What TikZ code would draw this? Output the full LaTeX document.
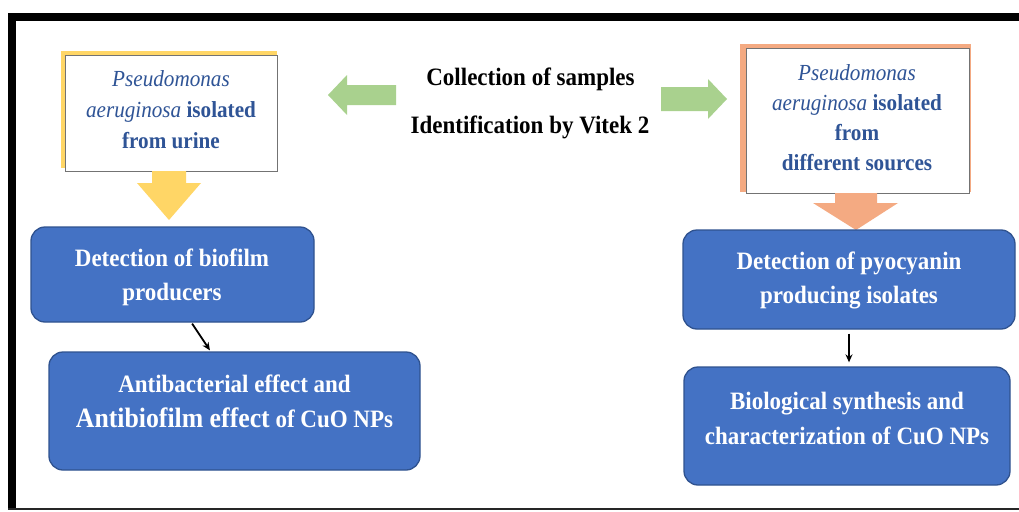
\documentclass[tikz,border=0pt]{standalone}
\usepackage{fontspec}
\setmainfont{Liberation Serif}[FakeStretch=0.92]
\usetikzlibrary{calc,arrows.meta}
\definecolor{boxblue}{RGB}{68,114,196}
\definecolor{boxedge}{RGB}{47,82,143}
\definecolor{inkblue}{RGB}{47,84,150}
\definecolor{sunyellow}{RGB}{255,214,102}
\definecolor{peach}{RGB}{244,170,130}
\definecolor{leafgreen}{RGB}{169,209,142}
\begin{document}
\begin{tikzpicture}[x=1pt,y=-1pt,
  whitebox/.style={draw=black!55,line width=0.9pt,fill=white,inner sep=0pt},
  srctext/.style={text=inkblue,font=\fontsize{23}{31}\selectfont\bfseries,align=center,inner sep=0pt},
  bluebox/.style={draw=boxedge,line width=1.3pt,fill=boxblue,rounded corners=14pt,inner sep=0pt},
  bluetext/.style={text=white,font=\fontsize{25}{35}\selectfont\bfseries,align=center,inner sep=0pt},
  midtext/.style={text=black,font=\fontsize{25}{30}\selectfont\bfseries,inner sep=0pt,anchor=base},
  conn/.style={draw=black,line width=1.8pt,-{Stealth[length=8pt,width=7pt]}}
]
\useasboundingbox (0,0) rectangle (1019,511);
\fill[white] (0,0) rectangle (1019,511);

% page frame
\fill[black] (8,13) rectangle (1019,21);
\fill[black] (8,13) rectangle (16,510);
\fill[black!85] (8,508) rectangle (1019,510);

% sample sources
\fill[sunyellow] (61,51) rectangle (277,168);
\node[whitebox,minimum width=212,minimum height=116] (urine) at (171,113) {};
\node[srctext] (urinetext) at (171,110)
  {{\mdseries\itshape Pseudomonas}\\{\mdseries\itshape aeruginosa} isolated\\from urine};

\fill[peach] (740,44) rectangle (971,192);
\node[whitebox,minimum width=223,minimum height=145] (sources) at (857.5,120.5) {};
\node[srctext,font=\fontsize{23}{30}\selectfont\bfseries] (sourcestext) at (857,118)
  {{\mdseries\itshape Pseudomonas}\\{\mdseries\itshape aeruginosa} isolated\\from\\different sources};

% central steps
\node[midtext] (collect) at (530.5,85) {Collection of samples};
\node[midtext] (vitek) at (530,133) {Identification by Vitek 2};

% green block arrows
\fill[leafgreen] (328,95) -- (347,75) -- (347,85) -- (396,85) -- (396,105) -- (347,105) -- (347,115) -- cycle;
\fill[leafgreen] (727,99) -- (708,79) -- (708,87) -- (661,87) -- (661,111) -- (708,111) -- (708,119) -- cycle;

% down block arrows
\fill[sunyellow] (152,171) -- (186,171) -- (186,183) -- (201,183) -- (169,220) -- (137,183) -- (152,183) -- cycle;
\fill[peach] (835,193) -- (877,193) -- (877,203) -- (898,203) -- (856,230) -- (813,203) -- (835,203) -- cycle;

% left branch
\node[bluebox,minimum width=283,minimum height=95] (biofilm) at (172.5,274.5) {};
\node[bluetext,font=\fontsize{25}{34}\selectfont\bfseries] (biofilmtext) at (172,277) {Detection of biofilm\\producers};
\node[bluebox,minimum width=371,minimum height=118] (effect) at (234.5,411) {};
\node[bluetext] (effecttext) at (234.5,401)
  {Antibacterial effect and\\{\fontsize{28}{35}\selectfont Antibiofilm effect} of CuO NPs};
\draw[conn] ($(biofilm.south west)!0.569!(biofilm.south east)+(0,1)$) -- ($(effect.north west)!0.434!(effect.north east)+(0,-1)$);

% right branch
\node[bluebox,minimum width=332,minimum height=99] (pyo) at (849,279.5) {};
\node[bluetext,font=\fontsize{25}{34}\selectfont\bfseries] (pyotext) at (849,280) {Detection of pyocyanin\\producing isolates};
\node[bluebox,minimum width=326,minimum height=118] (synth) at (847,426) {};
\node[bluetext] (synthtext) at (847,418) {Biological synthesis and\\characterization of CuO NPs};
\draw[conn] ($(pyo.south)+(0,4)$) -- ($(pyo.south |- synth.north)+(0,-4)$);
\end{tikzpicture}
\end{document}
